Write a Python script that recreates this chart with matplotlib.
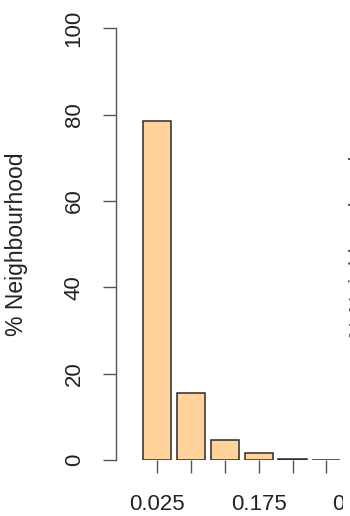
import matplotlib
matplotlib.use("Agg")
import matplotlib.pyplot as plt
from matplotlib.patches import Rectangle

# bin midpoints and % of neighbourhood in each bin
bin_mids = [0.025, 0.075, 0.125, 0.175, 0.225, 0.275, 0.325]
pct = [78.5, 15.5, 4.6, 1.6, 0.3, 0.05]
tick_labels = ["0.025", "", "", "0.175", "", "", "0.325"]
y_ticks = [0, 20, 40, 60, 80, 100]

plt.rcParams['font.family'] = ['Liberation Sans', 'DejaVu Sans']

W, H = 350, 516
fig = plt.figure(figsize=(W / 100, H / 100), dpi=100)
fig.patch.set_facecolor("white")

# plot region runs past the right edge (the picture is a crop of a panel grid)
ax = fig.add_axes([116 / W, (H - 460) / H, (420 - 116) / W, (460 - 11) / H])

step = 0.05
ax.bar(bin_mids[:len(pct)], pct, width=step * 0.835, color="#FFD39B",
       edgecolor="#2b2b2b", linewidth=1.1, zorder=2)

ax.set_xlim(0.025 - 1.222 * step, 0.025 + 7.772 * step)
ax.set_ylim(0, 104)

for s in ["top", "right", "bottom"]:
    ax.spines[s].set_visible(False)
ax.spines["left"].set_bounds(0, 100)
ax.spines["left"].set_color("#555555")
ax.spines["left"].set_linewidth(1.0)

ax.set_xticks(bin_mids)
ax.set_xticklabels(tick_labels)
ax.set_yticks(y_ticks)
ax.set_yticklabels([str(v) for v in y_ticks], rotation=90, va="center")

ax.tick_params(axis="x", length=9.5, width=1.0, color="#555555", pad=15,
               labelsize=16, labelcolor="#222222")
ax.tick_params(axis="y", length=9.5, width=1.0, color="#555555", pad=13,
               labelsize=16, labelcolor="#222222")

fig.text(17 / W, 1 - 244 / H, "% Neighbourhood", rotation=90, ha="center",
         va="center", fontsize=16.5, color="#222222")

# this panel's region ends here; the next panel starts
fig.add_artist(Rectangle((343 / W, 0), 7 / W, 1, transform=fig.transFigure,
                         facecolor="white", edgecolor="none", zorder=10))
fig.text(349.5 / W, 1 - 247 / H, "% Neighbourhood", rotation=90, ha="left",
         va="center", fontsize=16.5, color="#555555", zorder=11)

fig.savefig("out.png", dpi=100)
